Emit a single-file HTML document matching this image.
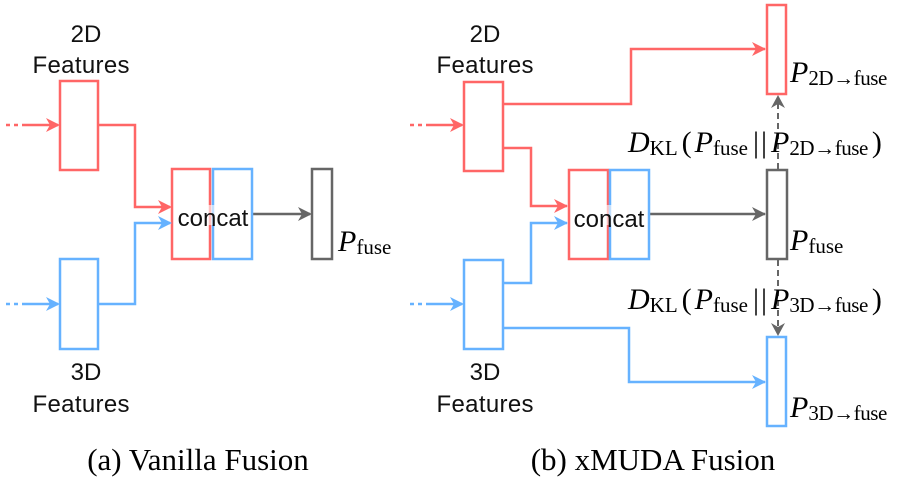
<!DOCTYPE html>
<html><head><meta charset="utf-8"><style>
html,body{margin:0;padding:0;background:#fff;}
svg{display:block;}
.s{font-family:"Liberation Sans",sans-serif;font-size:24px;fill:#111;}
.m{font-family:"Liberation Serif",serif;fill:#000;}
</style></head><body>
<svg width="898" height="485" viewBox="0 0 898 485" xmlns="http://www.w3.org/2000/svg">
<g fill="none" stroke-width="2.5">
<path d="M6,125H10 M14,125H18" stroke="#FF6666"/>
<path d="M22,125H58" stroke="#FF6666"/>
<path d="M6,304H10 M14,304H18" stroke="#66B2FF"/>
<path d="M22,304H58" stroke="#66B2FF"/>
<path d="M98,125H135V207H170" stroke="#FF6666"/>
<path d="M98,304H135V223H170" stroke="#66B2FF"/>
<path d="M252,214H310" stroke="#666"/>
<rect x="60" y="81" width="38" height="89" stroke="#FF6666"/>
<rect x="60" y="259" width="38" height="90" stroke="#66B2FF"/>
<rect x="172" y="169" width="38" height="90" stroke="#FF6666"/>
<rect x="213" y="169" width="39" height="90" stroke="#66B2FF"/>
<rect x="312" y="169" width="20" height="90" stroke="#666"/>
<path d="M410,125H414 M418,125H422" stroke="#FF6666"/>
<path d="M426,125H462" stroke="#FF6666"/>
<path d="M410,304H414 M418,304H422" stroke="#66B2FF"/>
<path d="M426,304H462" stroke="#66B2FF"/>
<path d="M503,104H631V49H765" stroke="#FF6666"/>
<path d="M503,148H531V206H567" stroke="#FF6666"/>
<path d="M503,283H531V223H567" stroke="#66B2FF"/>
<path d="M503,328H629V382H765" stroke="#66B2FF"/>
<path d="M649,214H765" stroke="#666"/>
<path d="M778,169V98" stroke="#666" stroke-width="2" stroke-dasharray="6,4"/>
<path d="M778,260V333" stroke="#666" stroke-width="2" stroke-dasharray="6,4"/>
<rect x="464" y="82" width="39" height="89" stroke="#FF6666"/>
<rect x="464" y="260" width="39" height="89" stroke="#66B2FF"/>
<rect x="569" y="170" width="39" height="89" stroke="#FF6666"/>
<rect x="610" y="170" width="39" height="89" stroke="#66B2FF"/>
<rect x="767" y="5" width="19" height="89" stroke="#FF6666"/>
<rect x="767" y="170" width="20" height="89" stroke="#666"/>
<rect x="767" y="337" width="19" height="89" stroke="#66B2FF"/>
</g>
<g>
<path d="M60,125 L46,118 L50,125 L46,132z" fill="#FF6666"/>
<path d="M60,304 L46,297 L50,304 L46,311z" fill="#66B2FF"/>
<path d="M172,207 L158,200 L162,207 L158,214z" fill="#FF6666"/>
<path d="M172,223 L158,216 L162,223 L158,230z" fill="#66B2FF"/>
<path d="M312,214 L298,207 L302,214 L298,221z" fill="#666"/>
<path d="M464,125 L450,118 L454,125 L450,132z" fill="#FF6666"/>
<path d="M464,304 L450,297 L454,304 L450,311z" fill="#66B2FF"/>
<path d="M766,49 L752,42 L756,49 L752,56z" fill="#FF6666"/>
<path d="M568,206 L554,199 L558,206 L554,213z" fill="#FF6666"/>
<path d="M568,223 L554,216 L558,223 L554,230z" fill="#66B2FF"/>
<path d="M766,214 L752,207 L756,214 L752,221z" fill="#666"/>
<path d="M766,382 L752,375 L756,382 L752,389z" fill="#66B2FF"/>
<path d="M778,95 L771,108 L778,104 L785,108z" fill="#666"/>
<path d="M778,336 L771,323 L778,327 L785,323z" fill="#666"/>
</g>
<rect x="208" y="205" width="8" height="20" fill="#fff" opacity="0.6"/>
<rect x="605" y="205" width="8" height="20" fill="#fff" opacity="0.6"/>
<text class="s" x="213" y="226" text-anchor="middle" font-size="25" fill="#222">concat</text>
<text class="s" x="609" y="227" text-anchor="middle" font-size="25" fill="#222">concat</text>
<text class="s" x="86" y="42" text-anchor="middle">2D</text>
<text class="s" x="81" y="73" text-anchor="middle" textLength="97">Features</text>
<text class="s" x="86" y="380" text-anchor="middle">3D</text>
<text class="s" x="81" y="412" text-anchor="middle" textLength="97">Features</text>
<text class="s" x="485" y="42" text-anchor="middle">2D</text>
<text class="s" x="485" y="73" text-anchor="middle" textLength="97">Features</text>
<text class="s" x="485" y="380" text-anchor="middle">3D</text>
<text class="s" x="485" y="412" text-anchor="middle" textLength="97">Features</text>
<text class="m" x="338" y="251"><tspan font-style="italic" font-size="30">P</tspan><tspan font-size="21" dy="3">fuse</tspan></text>
<text class="m" x="790" y="250"><tspan font-style="italic" font-size="30">P</tspan><tspan font-size="21" dy="3">fuse</tspan></text>
<text class="m" x="790" y="82"><tspan font-style="italic" font-size="30">P</tspan><tspan font-size="21" dy="3" textLength="79">2D→fuse</tspan></text>
<text class="m" x="790" y="417"><tspan font-style="italic" font-size="30">P</tspan><tspan font-size="21" dy="3" textLength="79">3D→fuse</tspan></text>
<text class="m" x="628" y="152"><tspan font-style="italic" font-size="30">D</tspan><tspan font-size="21" dy="3">KL</tspan><tspan font-size="30" dy="-3" dx="4">(</tspan><tspan font-style="italic" font-size="30" dx="3">P</tspan><tspan font-size="21" dy="3">fuse</tspan><tspan font-size="30" dy="-3" dx="5">|</tspan><tspan font-size="30" dx="2">|</tspan><tspan font-style="italic" font-size="30" dx="4">P</tspan><tspan font-size="21" dy="3" textLength="79">2D→fuse</tspan><tspan font-size="30" dy="-3" dx="4">)</tspan></text>
<text class="m" x="628" y="309"><tspan font-style="italic" font-size="30">D</tspan><tspan font-size="21" dy="3">KL</tspan><tspan font-size="30" dy="-3" dx="4">(</tspan><tspan font-style="italic" font-size="30" dx="3">P</tspan><tspan font-size="21" dy="3">fuse</tspan><tspan font-size="30" dy="-3" dx="5">|</tspan><tspan font-size="30" dx="2">|</tspan><tspan font-style="italic" font-size="30" dx="4">P</tspan><tspan font-size="21" dy="3" textLength="79">3D→fuse</tspan><tspan font-size="30" dy="-3" dx="4">)</tspan></text>
<text class="m" x="198" y="470" font-size="31" text-anchor="middle">(a) Vanilla Fusion</text>
<text class="m" x="653" y="470" font-size="31" text-anchor="middle">(b) xMUDA Fusion</text>
</svg>
</body></html>
